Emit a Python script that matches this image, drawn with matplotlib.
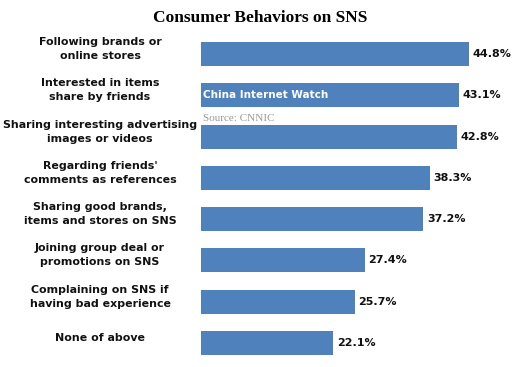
import matplotlib
matplotlib.use("Agg")
import matplotlib.pyplot as plt
import matplotlib.transforms as mtransforms

labels = ["Following brands or\nonline stores",
          "Interested in items\nshare by friends",
          "Sharing interesting advertising\nimages or videos",
          "Regarding friends'\ncomments as references",
          "Sharing good brands,\nitems and stores on SNS",
          "Joining group deal or\npromotions on SNS",
          "Complaining on SNS if\nhaving bad experience",
          "None of above"]
values = [44.8, 43.1, 42.8, 38.3, 37.2, 27.4, 25.7, 22.1]

W, H = 521, 367
fig = plt.figure(figsize=(W / 100, H / 100), dpi=100)
fig.patch.set_facecolor("white")
ax = fig.add_axes([201 / W, 1 - 363.6 / H, (521 - 201) / W, 330.2 / H])

y = list(range(len(values)))
ax.barh(y, values, height=0.58, color="#4F81BD")
ax.set_ylim(len(values) - 0.5, -0.5)
ax.set_xlim(0, 320 / 5.98)
ax.axis("off")

for yi, v in zip(y, values):
    ax.annotate(f"{v}%", (v, yi), xytext=(2.5, 0), textcoords="offset points",
                ha="left", va="center", fontsize=8, fontweight="bold",
                family="DejaVu Sans", color="#111111")

trans = mtransforms.blended_transform_factory(fig.transFigure, ax.transData)
for yi, lab in zip(y, labels):
    ax.text(100 / W, yi - 0.12, lab, transform=trans, ha="center", va="center",
            fontsize=7.9, fontweight="bold", family="DejaVu Sans",
            linespacing=1.5, color="#111111")

fig.text(0.5, 1 - 18 / H, "Consumer Behaviors on SNS", ha="center", va="center",
         fontsize=12.5, fontweight="bold", family="Liberation Serif")

ax.text(0.4, 1, "China Internet Watch", ha="left", va="center", color="white",
        fontsize=7.5, fontweight="bold", family="DejaVu Sans")
ax.text(0.4, 1.55, "Source: CNNIC", ha="left", va="center", color="#999999",
        fontsize=8, family="Liberation Serif")

fig.savefig("out.png", dpi=100)
